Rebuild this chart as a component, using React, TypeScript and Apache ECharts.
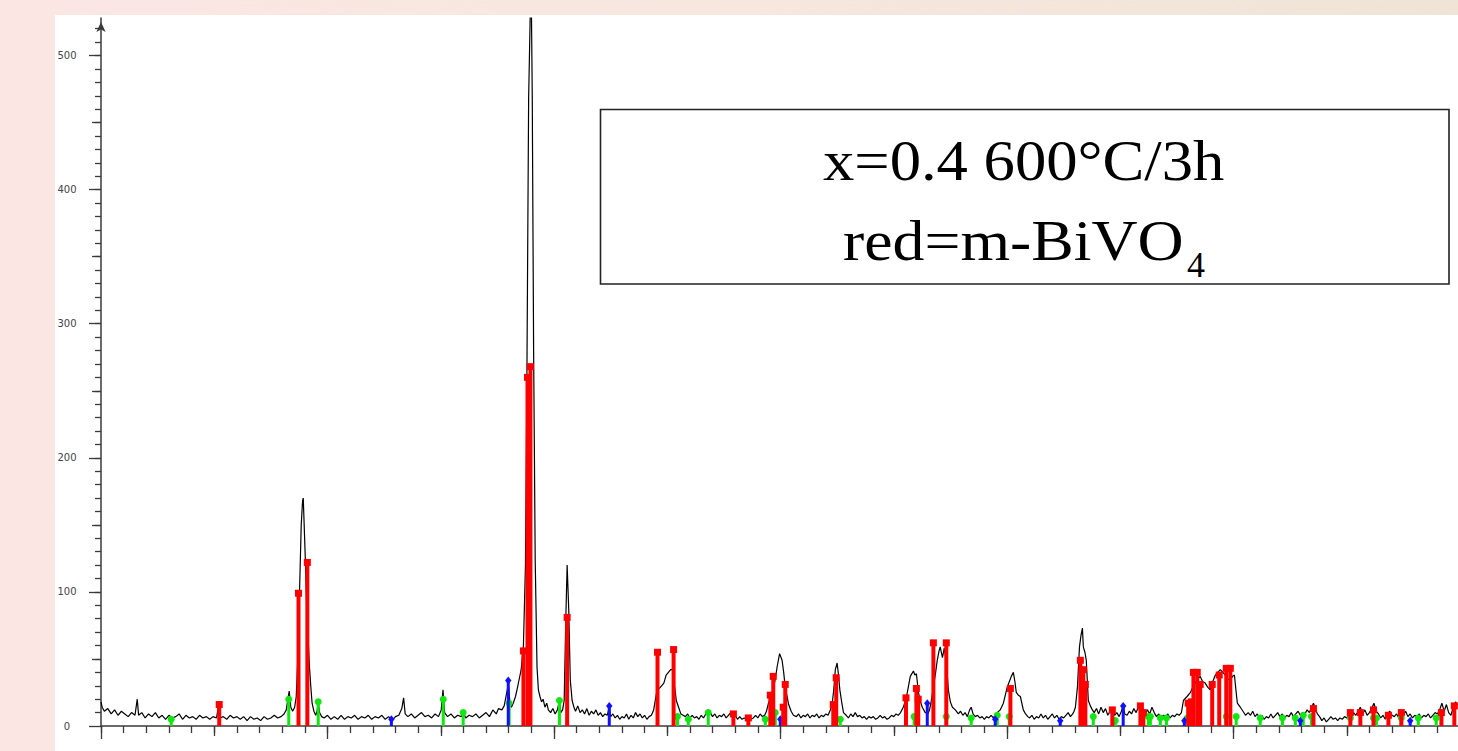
import React, { useEffect, useRef } from "react";
import * as echarts from "echarts";

// ---- measured XRD scan (2θ in degrees, intensity in counts) ----
const scanA: [number, number][] = [
  [10.0, 18], [10.05, 14], [10.15, 11], [10.3, 13], [10.45, 9], [10.6, 12], [10.75, 8], [10.9, 11], [11.05, 9], [11.2, 7],
  [11.35, 10], [11.5, 8], [11.6, 20], [11.66, 8], [11.8, 10], [11.95, 6], [12.1, 9], [12.25, 7], [12.4, 10], [12.55, 6],
  [12.7, 8], [12.85, 5], [13.0, 8], [13.15, 6], [13.3, 7], [13.45, 9], [13.6, 5], [13.75, 8], [13.9, 6], [14.05, 7],
  [14.2, 5], [14.35, 8], [14.5, 6], [14.65, 7], [14.8, 5], [14.95, 7], [15.1, 6], [15.2, 16], [15.26, 6], [15.4, 7],
  [15.55, 5], [15.7, 8], [15.85, 6], [16.0, 7], [16.15, 5], [16.3, 7], [16.45, 4], [16.6, 7], [16.75, 5], [16.9, 6],
  [17.05, 4], [17.2, 7], [17.35, 5], [17.5, 6], [17.65, 8], [17.8, 6], [17.95, 7], [18.08, 9], [18.18, 12], [18.25, 20],
  [18.31, 26], [18.38, 14], [18.46, 11],
];
const scanB: [number, number][] = [
  [18.55, 14], [18.62, 22], [18.7, 55], [18.78, 110], [18.84, 150], [18.9, 168], [18.93, 170], [18.97, 150], [19.02, 125],
  [19.08, 90], [19.15, 64], [19.2, 45], [19.26, 30], [19.32, 17], [19.4, 11], [19.48, 8], [19.54, 11], [19.59, 18],
  [19.65, 10], [19.74, 7],
];
const scanC: [number, number][] = [
  [19.85, 6], [20.0, 8], [20.15, 5], [20.3, 7], [20.45, 5], [20.6, 8], [20.75, 5], [20.9, 7], [21.05, 6], [21.2, 8],
  [21.35, 5], [21.5, 7], [21.65, 6], [21.8, 8], [21.95, 5], [22.1, 7], [22.25, 6], [22.4, 8], [22.55, 5], [22.7, 7],
  [22.85, 4], [23.0, 7], [23.15, 8], [23.28, 13], [23.36, 21], [23.43, 9], [23.55, 7], [23.7, 9], [23.85, 6], [24.0, 8],
  [24.15, 10], [24.3, 7], [24.45, 8], [24.6, 6], [24.75, 9], [24.9, 7], [25.02, 12], [25.1, 27], [25.17, 10], [25.3, 7],
  [25.45, 9], [25.6, 6], [25.75, 8], [25.9, 7], [26.0, 10], [26.1, 6], [26.25, 8], [26.4, 7], [26.55, 9], [26.7, 6],
  [26.85, 8], [27.0, 10], [27.15, 7], [27.3, 12], [27.45, 9], [27.55, 13], [27.7, 12], [27.8, 15], [27.88, 22], [27.95, 28],
  [28.0, 29], [28.05, 18], [28.12, 14], [28.2, 17], [28.3, 22], [28.38, 28],
];
const scanD: [number, number][] = [
  [28.44, 33], [28.55, 42], [28.65, 60], [28.74, 120], [28.8, 250], [28.88, 468], [28.95, 530], [29.0, 540], [29.04, 470],
  [29.1, 280], [29.17, 124], [29.25, 44], [29.31, 27], [29.38, 22], [29.45, 18],
];
const scanE: [number, number][] = [
  [29.52, 20], [29.6, 14], [29.68, 17], [29.75, 12], [29.85, 10], [29.95, 13], [30.05, 9], [30.15, 12], [30.24, 19],
  [30.3, 10], [30.38, 12], [30.45, 19], [30.52, 79], [30.58, 120], [30.65, 87], [30.72, 34], [30.8, 19], [30.88, 14],
  [30.95, 11], [31.05, 15], [31.15, 10], [31.25, 12], [31.35, 9], [31.45, 13], [31.55, 8], [31.65, 11], [31.75, 9],
  [31.85, 12], [31.95, 8], [32.05, 10], [32.15, 7], [32.25, 9], [32.35, 8], [32.44, 14], [32.5, 7], [32.6, 9], [32.7, 6],
  [32.8, 8], [32.9, 5], [33.0, 7], [33.1, 6], [33.2, 9], [33.3, 5], [33.4, 8], [33.5, 6], [33.6, 10], [33.7, 7], [33.8, 9],
  [33.9, 6], [34.0, 8], [34.1, 5], [34.2, 7], [34.3, 8],
];
const scanF: [number, number][] = [
  [34.4, 12], [34.5, 22], [34.57, 29], [34.65, 28], [34.75, 30], [34.85, 32], [34.95, 38], [35.05, 40], [35.15, 42],
  [35.25, 42], [35.32, 30], [35.4, 19], [35.5, 14], [35.6, 9], [35.7, 8], [35.8, 7], [35.9, 9], [36.0, 6], [36.1, 8],
  [36.2, 6], [36.3, 7], [36.4, 5], [36.5, 8], [36.6, 6], [36.7, 9], [36.8, 12], [36.9, 10], [37.0, 7], [37.1, 9], [37.2, 6],
  [37.3, 8], [37.4, 7], [37.5, 9], [37.6, 6], [37.7, 8], [37.8, 10], [37.9, 7], [38.0, 8], [38.1, 5], [38.2, 7], [38.3, 5],
  [38.4, 6], [38.5, 5], [38.6, 7], [38.7, 5], [38.8, 6], [38.9, 8], [39.0, 6], [39.1, 9], [39.2, 7], [39.3, 8], [39.38, 11],
  [39.47, 17], [39.6, 23], [39.7, 29], [39.78, 36], [39.85, 44], [39.96, 54], [40.07, 49], [40.14, 40], [40.21, 29],
  [40.36, 16], [40.47, 11], [40.57, 8],
];
const scanG: [number, number][] = [
  [40.7, 7], [40.8, 9], [40.9, 6], [41.0, 8], [41.1, 7], [41.2, 9], [41.3, 6], [41.4, 8], [41.5, 7], [41.6, 9], [41.7, 6],
  [41.8, 8], [41.9, 7], [42.0, 9], [42.1, 8], [42.2, 12], [42.28, 16], [42.35, 27], [42.42, 42], [42.5, 47], [42.56, 38],
  [42.62, 27], [42.7, 18], [42.78, 10], [42.9, 8], [43.0, 6], [43.1, 9], [43.2, 7], [43.3, 10], [43.4, 7], [43.5, 8],
  [43.6, 6], [43.7, 7], [43.8, 5], [43.9, 7], [44.0, 6], [44.1, 7], [44.2, 5], [44.3, 6], [44.4, 8], [44.5, 6], [44.6, 7],
  [44.7, 5], [44.8, 6], [44.9, 8], [45.0, 7], [45.1, 9], [45.2, 8], [45.3, 10], [45.42, 14], [45.5, 18], [45.6, 25],
  [45.73, 37], [45.87, 41], [45.93, 38], [46.0, 39], [46.09, 25], [46.18, 18], [46.26, 14], [46.39, 10], [46.5, 9],
  [46.58, 12], [46.65, 18], [46.75, 29], [46.85, 40], [46.92, 49], [47.0, 56], [47.05, 59], [47.15, 51], [47.23, 58],
  [47.32, 49], [47.41, 27], [47.5, 18], [47.59, 14], [47.72, 12],
];
const scanH: [number, number][] = [
  [47.85, 9], [47.95, 11], [48.05, 8], [48.15, 10], [48.25, 7], [48.35, 12], [48.42, 14], [48.5, 9], [48.6, 7], [48.7, 8],
  [48.8, 6], [48.9, 7], [49.0, 5], [49.1, 7], [49.2, 6], [49.3, 8], [49.4, 6], [49.5, 9], [49.57, 10], [49.7, 12],
  [49.84, 17], [50.01, 29], [50.1, 33], [50.19, 37], [50.28, 40], [50.35, 33], [50.41, 25], [50.5, 23], [50.59, 22],
  [50.72, 12], [50.82, 9], [50.92, 7], [51.0, 6], [51.1, 8], [51.2, 5], [51.3, 7], [51.4, 6], [51.5, 9], [51.6, 6],
  [51.7, 8], [51.8, 5], [51.9, 7], [52.0, 9], [52.1, 6], [52.2, 8], [52.3, 5], [52.4, 7], [52.5, 6], [52.6, 8], [52.7, 10],
  [52.8, 7], [52.9, 9], [52.96, 11], [53.02, 14], [53.11, 29], [53.2, 59], [53.27, 68], [53.33, 73], [53.37, 59],
  [53.44, 55], [53.5, 49], [53.59, 19], [53.68, 15], [53.77, 12], [53.85, 10],
];
const scanI: [number, number][] = [
  [53.95, 13], [54.05, 9], [54.15, 14], [54.25, 10], [54.35, 13], [54.45, 8], [54.55, 11], [54.65, 13], [54.75, 8],
  [54.85, 10], [54.95, 7], [55.05, 11], [55.13, 15], [55.2, 9], [55.3, 8], [55.4, 11], [55.5, 9], [55.6, 13], [55.7, 10],
  [55.8, 14], [55.9, 11], [56.0, 13], [56.1, 9], [56.2, 12], [56.3, 9], [56.4, 14], [56.5, 10], [56.6, 7], [56.7, 9],
  [56.8, 6], [56.9, 8], [57.0, 7], [57.1, 9], [57.2, 6], [57.3, 8], [57.4, 7], [57.5, 9], [57.6, 8], [57.7, 10],
  [57.79, 19], [57.95, 22], [58.1, 25], [58.2, 29], [58.31, 32], [58.42, 35], [58.53, 37], [58.64, 33], [58.75, 32],
  [58.86, 29], [58.97, 27], [59.08, 33], [59.2, 38], [59.3, 40], [59.42, 42], [59.53, 40], [59.64, 38], [59.75, 35],
  [59.86, 34], [59.95, 37], [60.04, 38], [60.1, 28], [60.17, 17], [60.3, 14], [60.42, 11], [60.53, 8],
];
const scanJ: [number, number][] = [
  [60.65, 10], [60.75, 8], [60.85, 11], [60.95, 7], [61.05, 9], [61.15, 6], [61.25, 8], [61.35, 5], [61.45, 7], [61.55, 6],
  [61.65, 9], [61.75, 6], [61.85, 8], [61.95, 10], [62.05, 7], [62.15, 9], [62.25, 6], [62.35, 8], [62.45, 7], [62.55, 10],
  [62.65, 7], [62.75, 9], [62.85, 11], [62.95, 8], [63.05, 10], [63.15, 9], [63.25, 12], [63.35, 10], [63.45, 14],
  [63.53, 17], [63.6, 14], [63.7, 9], [63.8, 7], [63.9, 4], [64.0, 6], [64.1, 3], [64.2, 5], [64.3, 7], [64.4, 5],
  [64.5, 6], [64.6, 4], [64.7, 6], [64.8, 5], [64.9, 7], [65.0, 6], [65.1, 9], [65.2, 7], [65.3, 10], [65.4, 8], [65.5, 11],
  [65.6, 14], [65.7, 9], [65.8, 12], [65.9, 8], [66.0, 10], [66.1, 13], [66.2, 17], [66.3, 11], [66.4, 9], [66.5, 6],
  [66.6, 8], [66.7, 5], [66.8, 9], [66.9, 11], [67.0, 8], [67.1, 7], [67.2, 9], [67.3, 6], [67.4, 10], [67.5, 8],
  [67.6, 11], [67.7, 7], [67.8, 9], [67.9, 6], [68.0, 8], [68.1, 7], [68.2, 9], [68.3, 6], [68.4, 8], [68.5, 7], [68.6, 9],
  [68.7, 6], [68.8, 8], [68.9, 10], [69.0, 9], [69.1, 12], [69.2, 17], [69.3, 11], [69.4, 16], [69.5, 10], [69.6, 8],
  [69.7, 14], [69.8, 18], [69.9, 16], [70.0, 15],
];

// ---- reference stick patterns ----
const redRefs: [number, number][] = [
  [15.22, 16], [18.72, 99], [19.11, 122], [28.65, 56], [28.83, 260], [28.96, 268], [30.58, 81], [34.57, 55], [35.28, 57],
  [37.92, 9], [38.58, 6], [39.55, 23], [39.68, 37], [40.12, 14], [40.21, 31], [42.33, 16], [42.46, 36], [45.54, 21],
  [46.0, 28], [46.08, 20], [46.75, 62], [47.32, 62], [50.15, 28], [53.24, 49], [53.37, 42], [53.46, 31], [54.65, 12],
  [55.89, 15], [56.02, 10], [58.0, 17], [58.14, 18], [58.23, 40], [58.4, 40], [58.53, 31], [59.06, 31], [59.37, 38],
  [59.68, 43], [59.86, 43], [63.53, 13], [65.16, 10], [65.6, 10], [66.18, 12], [66.84, 8], [67.41, 10], [69.18, 10],
  [69.75, 15],
];
const greenRefs: [number, number][] = [
  [13.1, 5], [18.29, 20], [19.59, 18], [25.11, 20], [25.99, 10], [28.02, 17], [30.24, 19], [35.45, 7], [35.93, 5],
  [36.81, 10], [39.33, 5], [39.77, 10], [42.64, 5], [45.9, 7], [47.32, 7], [48.42, 6], [49.57, 8], [50.1, 7], [53.32, 7],
  [53.81, 7], [54.78, 4], [56.24, 7], [56.33, 7], [56.77, 6], [57.04, 6], [57.96, 6], [58.09, 6], [59.68, 7], [60.12, 7],
  [61.18, 6], [62.16, 6], [62.73, 6], [63.08, 8], [63.44, 7], [65.16, 6], [66.18, 6], [66.31, 6], [67.41, 6], [68.16, 6],
  [68.95, 6],
];
const blueRefs: [number, number][] = [
  [22.82, 5], [27.98, 34], [32.44, 15], [39.99, 5], [46.48, 17], [49.48, 5], [52.35, 4], [55.13, 15], [57.83, 4],
  [62.95, 4], [67.8, 4],
];

// ---- axis ticks / labels ----
const yMajorTicks = [0, 100, 200, 300, 400, 500];
const yLabels = ["0", "100", "200", "300", "400", "500"];
const yMidTicks = [50, 150, 250, 350, 450];
const yMinorTicks: number[] = [];
for (let v = 10; v <= 520; v += 10) yMinorTicks.push(v);
const xMajorTicks = [10, 20, 30, 40, 50, 60, 70];
const xMidTicks = [15, 25, 35, 45, 55, 65];
const xMinorTicks: number[] = [];
for (let v = 10; v <= 70; v += 1) xMinorTicks.push(v);

const titleLine1 = "x=0.4 600°C/3h";
const titleLine2 = "red=m-BiVO";
const titleSub = "4";

const AXIS = "#3a3a3a";

function stemSeries(name: string, data: [number, number][], color: string, w: number, marker: string, z: number) {
  return {
    type: "custom",
    name,
    data,
    z,
    clip: false,
    encode: { x: 0, y: 1 },
    renderItem: (_params: any, api: any) => {
      const xv = api.value(0);
      const yv = api.value(1);
      const top = api.coord([xv, yv]);
      const base = api.coord([xv, 0]);
      const children: any[] = [
        {
          type: "rect",
          shape: { x: top[0] - w / 2, y: top[1], width: w, height: base[1] - top[1] },
          style: { fill: color },
        },
      ];
      if (marker === "square") {
        children.push({ type: "rect", shape: { x: top[0] - 3.5, y: top[1] - 3.5, width: 7, height: 7 }, style: { fill: color } });
      } else if (marker === "circle") {
        children.push({ type: "circle", shape: { cx: top[0], cy: top[1], r: 3.5 }, style: { fill: color } });
      } else {
        children.push({
          type: "polygon",
          shape: { points: [[top[0], top[1] - 4], [top[0] + 3.2, top[1]], [top[0], top[1] + 4], [top[0] - 3.2, top[1]]] },
          style: { fill: color },
        });
      }
      return { type: "group", children };
    },
  };
}

export default function App() {
  const ref = useRef<HTMLDivElement>(null);
  useEffect(() => {
    if (!ref.current) return;
    const chart = echarts.init(ref.current, null, { renderer: "svg" });
    const scan = [...scanA, ...scanB, ...scanC, ...scanD, ...scanE, ...scanF, ...scanG, ...scanH, ...scanI, ...scanJ];
    const tickStyle = { color: AXIS, width: 1.3 };
    const baseX: any = {
      type: "value", min: 10, max: 70, gridIndex: 0, position: "bottom",
      splitLine: { show: false }, axisLabel: { show: false }, minorTick: { show: false },
    };
    const baseY: any = {
      type: "value", min: 0, max: 528, gridIndex: 0, position: "left",
      splitLine: { show: false }, minorTick: { show: false },
    };
    chart.setOption({
      animation: false,
      grid: { left: 101, top: 18, width: 1359, height: 708, outerBoundsMode: "none", containLabel: false },
      xAxis: [
        { ...baseX, axisLine: { show: true, lineStyle: { color: AXIS, width: 1.5 } }, axisTick: { show: true, customValues: xMajorTicks, length: 13, lineStyle: tickStyle } },
        { ...baseX, axisLine: { show: false }, axisTick: { show: true, customValues: xMidTicks, length: 10, lineStyle: tickStyle } },
        { ...baseX, axisLine: { show: false }, axisTick: { show: true, customValues: xMinorTicks, length: 7, lineStyle: tickStyle } },
      ],
      yAxis: [
        {
          ...baseY,
          axisLine: { show: true, lineStyle: { color: AXIS, width: 1.5 }, symbol: ["none", "arrow"], symbolSize: [7, 10], symbolOffset: [0, -4] },
          axisTick: { show: true, customValues: yMajorTicks, length: 12, lineStyle: tickStyle },
          axisLabel: {
            show: true,
            customValues: yMajorTicks,
            formatter: (v: number) => yLabels[yMajorTicks.indexOf(v)] ?? "",
            fontSize: 10, fontFamily: "DejaVu Sans", color: "#444", align: "center", margin: 34, padding: [7, 0, 0, 0],
          },
        },
        { ...baseY, axisLine: { show: false }, axisLabel: { show: false }, axisTick: { show: true, customValues: yMidTicks, length: 9, lineStyle: tickStyle } },
        { ...baseY, axisLine: { show: false }, axisLabel: { show: false }, axisTick: { show: true, customValues: yMinorTicks, length: 6, lineStyle: tickStyle } },
      ],
      series: [
        {
          type: "line", name: "scan", data: scan, xAxisIndex: 0, yAxisIndex: 0, showSymbol: false, symbol: "none",
          lineStyle: { color: "#000", width: 1.2 }, z: 2, clip: true,
        },
        stemSeries("green", greenRefs, "#10e610", 3, "circle", 3),
        stemSeries("blue", blueRefs, "#1010ff", 3, "diamond", 4),
        stemSeries("red", redRefs, "#ff0000", 4, "square", 5),
      ],
      graphic: [
        {
          type: "rect", z: 10,
          shape: { x: 600.5, y: 109.5, width: 848.5, height: 174.5 },
          style: { fill: "#fff", stroke: "#222", lineWidth: 1.6 },
        },
        {
          type: "text", z: 11, x: 823, y: 160.5, scaleX: 1.08,
          style: { text: titleLine1, fontSize: 58, fontFamily: "Liberation Serif", fill: "#000", align: "left", verticalAlign: "middle" },
        },
        {
          type: "text", z: 11, x: 843, y: 240.5, scaleX: 1.1,
          style: { text: titleLine2, fontSize: 58, fontFamily: "Liberation Serif", fill: "#000", align: "left", verticalAlign: "middle" },
        },
        {
          type: "text", z: 11, x: 1187, y: 264.5,
          style: { text: titleSub, fontSize: 36, fontFamily: "Liberation Serif", fill: "#000", align: "left", verticalAlign: "middle" },
        },
      ],
    });
    return () => chart.dispose();
  }, []);
  return (
    <div
      style={{
        position: "fixed", left: 0, top: 0, width: 1458, height: 751, overflow: "hidden",
        background: "linear-gradient(90deg, #fbe6e3 0%, #f7e7df 50%, #efe4d6 100%)",
      }}
    >
      <div style={{ position: "absolute", left: 55, top: 15, right: 0, bottom: 0, background: "#fff" }} />
      <div ref={ref} style={{ position: "absolute", left: 0, top: 0, width: 1458, height: 751 }} />
    </div>
  );
}
